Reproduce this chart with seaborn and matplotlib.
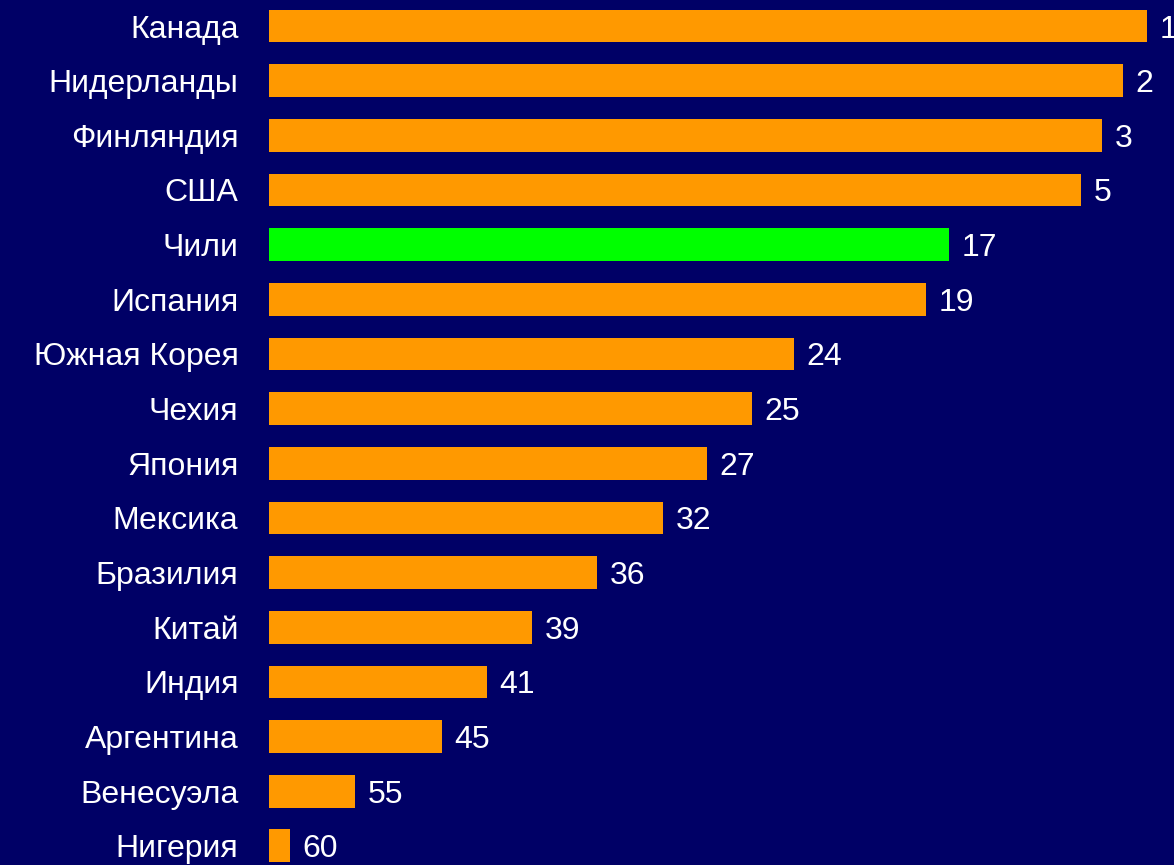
import matplotlib
matplotlib.use("Agg")
import matplotlib.pyplot as plt
import seaborn as sns
import pandas as pd

# countries, top to bottom, with bar length (index) and rank label
countries = ['Канада', 'Нидерланды', 'Финляндия', 'США', 'Чили', 'Испания',
             'Южная Корея', 'Чехия', 'Япония', 'Мексика', 'Бразилия', 'Китай',
             'Индия', 'Аргентина', 'Венесуэла', 'Нигерия']
values = [878, 854, 833, 812, 680, 657, 525, 483, 438, 394, 328, 263, 218, 173, 86, 21]
ranks = ['1', '2', '3', '5', '17', '19', '24', '25', '27', '32', '36', '39', '41', '45', '55', '60']
highlight = 'Чили'

df = pd.DataFrame({'country': countries, 'value': values, 'rank': ranks})
df['group'] = ['hl' if c == highlight else 'other' for c in df['country']]

bg = '#000066'
sns.set_theme(style='white')
plt.rcParams['font.family'] = ['Liberation Sans', 'DejaVu Sans']

fig = plt.figure(figsize=(11.74, 8.65), dpi=100, facecolor=bg)
ax = fig.add_axes([269 / 1174, 0, 1 - 269 / 1174, 1])
ax.set_facecolor(bg)

sns.barplot(data=df, x='value', y='country', hue='group', order=countries,
            palette={'other': '#FF9900', 'hl': '#00FF00'}, dodge=False,
            saturation=1, width=0.6, legend=False, ax=ax, orient='h', linewidth=0)

for cont in ax.containers:
    labs = []
    for bar in cont:
        # look up the rank for each bar by its y position
        idx = int(round(bar.get_y() + bar.get_height() / 2))
        labs.append(ranks[idx])
    txts = ax.bar_label(cont, labels=labs, padding=9, color='white', fontsize=23)
    for t in txts:
        t.set_verticalalignment('center_baseline')

ax.set_xlim(0, 905)
ax.set_ylim(15.35, -0.476)
ax.set_xlabel('')
ax.set_ylabel('')
ax.set_xticks([])
ax.tick_params(axis='y', length=0, pad=22, labelsize=23, labelcolor='white')
for s in ax.spines.values():
    s.set_visible(False)

fig.savefig('out.png', dpi=100, facecolor=bg)
